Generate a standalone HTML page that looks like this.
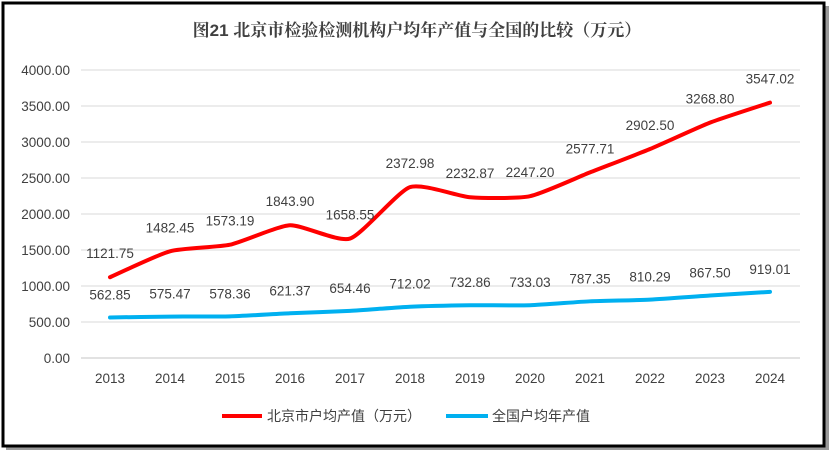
<!DOCTYPE html>
<html><head><meta charset="utf-8"><style>
body{margin:0;background:#fff;}
svg{display:block;font-family:"Liberation Sans","Noto Sans CJK SC",sans-serif;}
</style></head><body>
<svg id="s" width="834" height="456" xmlns="http://www.w3.org/2000/svg">
<rect x="6" y="6" width="823" height="444" fill="#9a9a9a"/>
<rect x="3" y="3" width="821" height="443" fill="#fff" stroke="#000" stroke-width="3"/>
<text x="417" y="36" text-anchor="middle" font-size="17" font-weight="bold" fill="#404040" style="font-family:'Liberation Sans','Noto Serif CJK SC',serif">图21  北京市检验检测机构户均年产值与全国的比较（万元）</text>
<g id="g"></g>
<line x1="222" y1="416" x2="262" y2="416" stroke="#ff0000" stroke-width="4"/>
<text x="267" y="421" font-size="14" fill="#404040">北京市户均产值（万元）</text>
<line x1="446" y1="416" x2="488" y2="416" stroke="#00b0f0" stroke-width="4"/>
<text x="492" y="421" font-size="14" fill="#404040">全国户均年产值</text>
</svg>
<script>
var g=document.getElementById('g'),h='';
for(var i=0;i<=8;i++){var y=358-i*36;h+='<line x1="81" x2="800" y1="'+y+'" y2="'+y+'" stroke="'+(i==0?'#d0d0d0':'#e0e0e0')+'" stroke-width="1.3"/>';
h+='<text x="70" y="'+(y+5)+'" text-anchor="end" font-size="13.5" fill="#404040">'+(i*500).toFixed(2)+'</text>';}
var red=[1121.75,1482.45,1573.19,1843.90,1658.55,2372.98,2232.87,2247.20,2577.71,2902.50,3268.80,3547.02];
var blue=[562.85,575.47,578.36,621.37,654.46,712.02,732.86,733.03,787.35,810.29,867.50,919.01];
function X(i){return 110+i*60}function Y(v){return 358-v*0.072}
function path(a){var p=a.map(function(v,i){return [X(i),Y(v)]});var d='M'+p[0][0]+','+p[0][1];
for(var i=0;i<p.length-1;i++){var p0=p[Math.max(i-1,0)],p1=p[i],p2=p[i+1],p3=p[Math.min(i+2,p.length-1)],t=1/10;
d+=' C'+(p1[0]+(p2[0]-p0[0])*t)+','+(p1[1]+(p2[1]-p0[1])*t)+' '+(p2[0]-(p3[0]-p1[0])*t)+','+(p2[1]-(p3[1]-p1[1])*t)+' '+p2[0]+','+p2[1];}return d;}
h+='<path d="'+path(blue)+'" fill="none" stroke="#00b0f0" stroke-width="4" stroke-linecap="round"/>';
h+='<path d="'+path(red)+'" fill="none" stroke="#ff0000" stroke-width="4" stroke-linecap="round"/>';
for(var i=0;i<12;i++){h+='<text x="'+X(i)+'" y="'+(383)+'" text-anchor="middle" font-size="13.5" fill="#404040">'+(2013+i)+'</text>';
h+='<text x="'+X(i)+'" y="'+(Y(red[i])-19)+'" text-anchor="middle" font-size="13.5" fill="#404040">'+red[i].toFixed(2)+'</text>';
h+='<text x="'+X(i)+'" y="'+(Y(blue[i])-18)+'" text-anchor="middle" font-size="13.5" fill="#404040">'+blue[i].toFixed(2)+'</text>';}
g.innerHTML=h;
</script>
</body></html>
